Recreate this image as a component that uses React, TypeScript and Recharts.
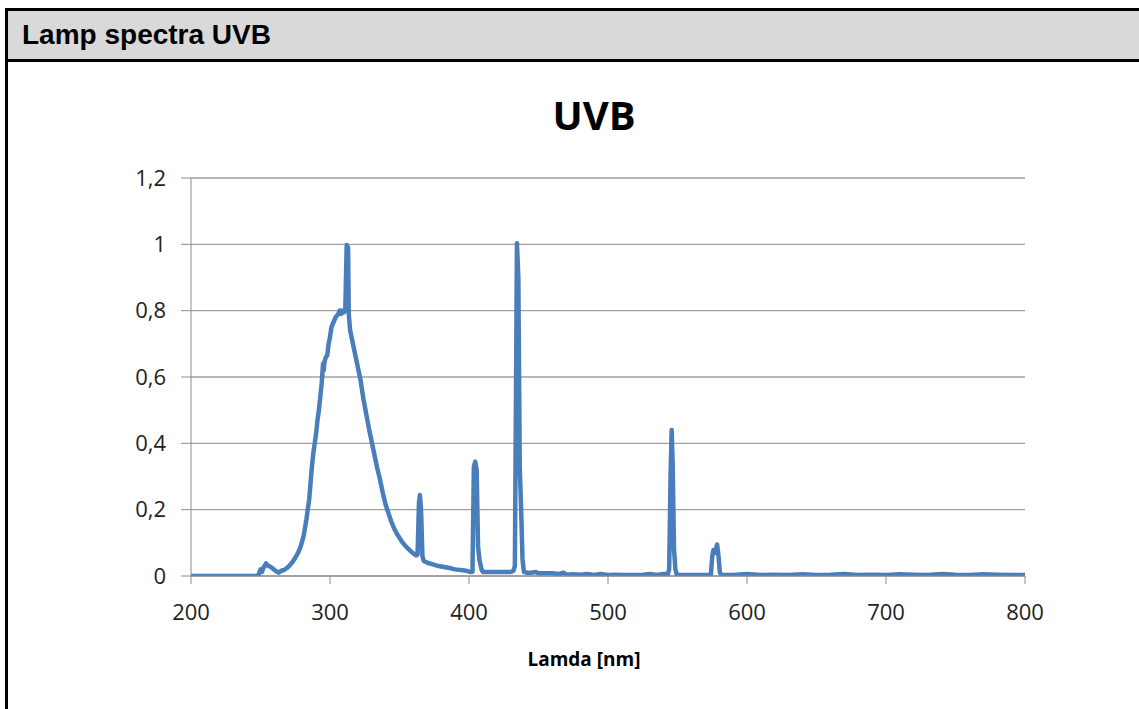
import React from 'react';
import { LineChart, Line, XAxis, YAxis, CartesianGrid } from 'recharts';

// wavelength [nm] and relative intensity
const wavelength = [
  200, 210, 220, 230, 240, 248, 249, 250, 251, 252, 254, 255, 257, 259, 261, 263, 265, 267, 269, 271,
  273, 275, 277, 279, 281, 283, 285, 286, 287, 288, 289, 290, 291, 292, 293, 294, 295, 295.5, 296, 297,
  298, 299, 300, 301, 302, 303, 304, 305, 306, 307, 308, 309, 310, 311, 312, 313, 313.5, 314.5, 316, 318,
  320, 322, 324, 326, 328, 330, 332, 334, 336, 338, 340, 342, 344, 346, 348, 350, 352, 354, 356, 358,
  360, 362, 363, 364, 364.7, 365.5, 366.5, 367.5, 370, 374, 378, 382, 386, 390, 394, 398, 401, 402.5, 403.5, 404.5,
  405.5, 406.5, 407.5, 409, 410, 415, 420, 425, 430, 432, 433, 434.5, 435.5, 436.5, 437.5, 438.5, 439.5, 442, 445, 448,
  450, 455, 460, 465, 468, 470, 475, 480, 485, 490, 495, 500, 505, 510, 515, 520, 525, 530, 535, 540,
  543, 544, 545, 545.8, 546.5, 547.5, 548.5, 549.5, 555, 560, 565, 570, 574, 575, 575.8, 577, 578.5, 579.5, 580.5, 582,
  590, 600, 610, 620, 630, 640, 650, 660, 670, 680, 690, 700, 710, 720, 730, 740, 750, 760, 770, 780,
  790, 800,
];

const intensity = [
  0, 0, 0, 0, 0, 0, 0.008, 0.02, 0.012, 0.024, 0.038, 0.032, 0.028, 0.022, 0.015, 0.01, 0.016, 0.018, 0.024, 0.032,
  0.042, 0.055, 0.07, 0.09, 0.12, 0.17, 0.23, 0.28, 0.33, 0.37, 0.4, 0.43, 0.47, 0.5, 0.54, 0.58, 0.64, 0.62, 0.645, 0.66,
  0.665, 0.7, 0.72, 0.75, 0.76, 0.77, 0.78, 0.785, 0.79, 0.8, 0.79, 0.8, 0.795, 0.8, 0.998, 0.99, 0.79, 0.74, 0.71, 0.67,
  0.63, 0.59, 0.535, 0.49, 0.445, 0.405, 0.365, 0.325, 0.29, 0.25, 0.215, 0.19, 0.165, 0.145, 0.128, 0.115, 0.102, 0.092, 0.083, 0.075,
  0.068, 0.062, 0.065, 0.22, 0.244, 0.2, 0.06, 0.045, 0.04, 0.035, 0.03, 0.027, 0.024, 0.02, 0.018, 0.016, 0.012, 0.013, 0.33, 0.345,
  0.32, 0.09, 0.05, 0.02, 0.012, 0.012, 0.012, 0.012, 0.012, 0.016, 0.03, 1.003, 0.9, 0.33, 0.2, 0.05, 0.012, 0.01, 0.01, 0.012,
  0.008, 0.008, 0.008, 0.006, 0.01, 0.004, 0.005, 0.004, 0.006, 0.003, 0.006, 0.003, 0.004, 0.003, 0.003, 0.003, 0.004, 0.006, 0.003, 0.006,
  0.005, 0.02, 0.3, 0.44, 0.34, 0.08, 0.02, 0.004, 0.003, 0.003, 0.003, 0.003, 0.003, 0.06, 0.078, 0.07, 0.095, 0.06, 0.01, 0.003,
  0.003, 0.006, 0.003, 0.004, 0.003, 0.005, 0.003, 0.004, 0.006, 0.003, 0.004, 0.003, 0.005, 0.004, 0.003, 0.006, 0.004, 0.003, 0.005, 0.004,
  0.003, 0.003,
];

const xTicks = [200, 300, 400, 500, 600, 700, 800];
const yTicks = [0, 0.2, 0.4, 0.6, 0.8, 1, 1.2];

const data = wavelength.map((nm, i) => ({ nm, value: intensity[i] }));

const tickFont = { fontFamily: '"Open Sans", sans-serif', fontSize: 22, fill: '#222' };

export default function App() {
  return (
    <div style={{ position: 'absolute', left: 0, top: 0, width: 1139, height: 709, overflow: 'hidden', background: '#fff' }}>
      <div
        style={{
          position: 'absolute',
          left: 5,
          top: 8,
          width: 1134,
          height: 701,
          borderLeft: '3px solid #000',
          borderTop: '3px solid #000',
          boxSizing: 'border-box',
        }}
      />
      <div
        style={{
          position: 'absolute',
          left: 8,
          top: 11,
          width: 1117,
          height: 48,
          lineHeight: '48px',
          background: '#d9d9d9',
          borderBottom: '3px solid #000',
          fontFamily: '"Liberation Sans", Arial, sans-serif',
          fontWeight: 'bold',
          fontSize: 28,
          paddingLeft: 14,
          boxSizing: 'content-box',
        }}
      >
        Lamp spectra UVB
      </div>

      <div
        style={{
          position: 'absolute',
          left: 394,
          top: 95,
          width: 400,
          textAlign: 'center',
          fontFamily: '"Open Sans", sans-serif',
          fontWeight: 'bold',
          fontSize: 40,
          lineHeight: '40px',
        }}
      >
        UVB
      </div>

      <div style={{ position: 'absolute', left: 0, top: 62 }}>
        <LineChart width={1139} height={647} data={data} margin={{ top: 116, right: 114, left: 120, bottom: 73 }}>
          <CartesianGrid horizontal vertical={false} stroke="#a0a0a0" strokeWidth={1.3} />
          <XAxis
            dataKey="nm"
            type="number"
            domain={[200, 800]}
            ticks={xTicks}
            interval={0}
            height={60}
            tickSize={8}
            tickMargin={20}
            stroke="#8c8c8c"
            tick={tickFont}
            allowDataOverflow
          />
          <YAxis
            type="number"
            domain={[0, 1.2]}
            ticks={yTicks}
            interval={0}
            width={71}
            tickSize={10}
            tickMargin={15}
            stroke="#8c8c8c"
            tick={tickFont}
            tickFormatter={(v: number) => String(Number(v.toFixed(1))).replace('.', ',')}
            allowDataOverflow
          />
          <Line
            type="linear"
            dataKey="value"
            stroke="#4a7ebb"
            strokeWidth={4.5}
            strokeLinejoin="round"
            dot={false}
            isAnimationActive={false}
          />
        </LineChart>
      </div>

      <div
        style={{
          position: 'absolute',
          left: 434,
          top: 645,
          width: 300,
          textAlign: 'center',
          fontFamily: '"Open Sans", sans-serif',
          fontWeight: 'bold',
          fontSize: 19,
          lineHeight: '28px',
        }}
      >
        Lamda [nm]
      </div>
    </div>
  );
}
